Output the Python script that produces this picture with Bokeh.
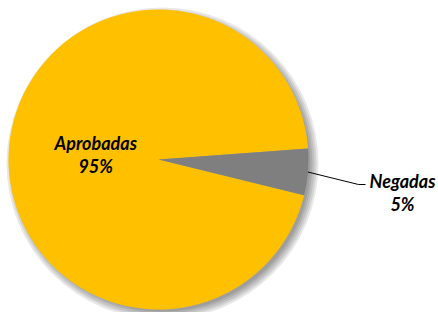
import numpy as np
from bokeh.plotting import figure
from bokeh.models import Range1d
from bokeh.core.properties import value
from bokeh.embed import file_html
from bokeh.resources import INLINE

categories = ["Aprobadas", "Negadas"]
values = [95, 5]
pct_labels = ["95%", "5%"]
colors = ["#FFC000", "#7F7F7F"]

W, H = 438, 312
p = figure(width=W, height=H, x_range=Range1d(0, W), y_range=Range1d(0, H),
           output_backend="svg", toolbar_location=None, min_border=0)
p.axis.visible = False
p.grid.visible = False
p.outline_line_color = None
p.background_fill_color = "white"
p.border_fill_color = "white"

cx, cy, r = 158, 153, 150
start0 = np.deg2rad(4.2)
vals = np.array(values, dtype=float)
frac = vals / vals.sum()
ends = start0 + np.cumsum(frac) * 2 * np.pi
starts = ends - frac * 2 * np.pi
mids = (starts + ends) / 2

# soft shadow
for dr in [-2, 0, 2, 4, 6]:
    p.circle(x=[cx + 4], y=[cy - 4], radius=r + dr, fill_color="black",
             fill_alpha=0.09, line_color=None)

p.wedge(x=cx, y=cy, radius=r, start_angle=list(starts), end_angle=list(ends),
        fill_color=colors, line_color=None)

font = value("Lato")
# inside label (Aprobadas)
lx = cx + 0.42 * r * np.cos(mids[0])
ly = cy + 0.42 * r * np.sin(mids[0])
p.text(x=[lx, lx], y=[ly + 11.5, ly - 11.5], text=[categories[0], pct_labels[0]],
       text_font=font, text_font_style="bold italic", text_font_size="18px",
       text_align="center", text_baseline="middle", text_color="black")

# outside label (Negadas) with leader line
ex = cx + r * np.cos(mids[1])
ey = cy + r * np.sin(mids[1])
nx, ny = 402, 120
p.line(x=[ex, nx - 44, nx - 37], y=[ey, ny + 8, ny + 8], line_color="black", line_width=1)
p.text(x=[nx, nx], y=[ny + 11.5, ny - 11.5], text=[categories[1], pct_labels[1]],
       text_font=font, text_font_style="bold italic", text_font_size="18px",
       text_align="center", text_baseline="middle", text_color="black")

open("out.html", "w").write(file_html(p, INLINE))
